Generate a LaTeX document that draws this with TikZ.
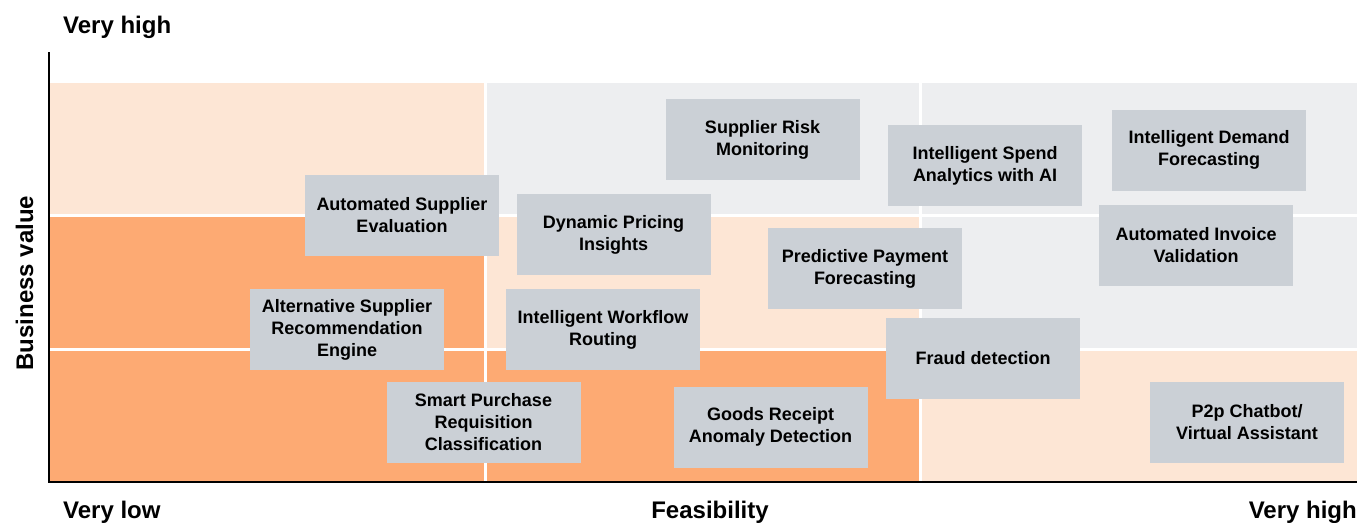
\documentclass[tikz,border=0pt]{standalone}
\usepackage{fontspec}
\setmainfont{Liberation Sans}
\definecolor{peach}{HTML}{FDE6D5}
\definecolor{hot}{HTML}{FDAA73}
\definecolor{mist}{HTML}{EDEEF0}
\definecolor{cardbg}{HTML}{CBD0D6}
\tikzset{
  axis/.style={draw=black, line width=2pt},
  gap/.style={draw=white, line width=3pt},
  card/.style={fill=cardbg, minimum width=194pt, minimum height=81pt, inner sep=0pt,
    align=center, font=\fontsize{18}{22}\selectfont\bfseries},
  axlab/.style={inner sep=0pt, font=\fontsize{24}{28}\selectfont\bfseries},
}

\begin{document}
\begin{tikzpicture}[x=1pt,y=-1pt]
  \useasboundingbox (0,0) rectangle (1372,522);
  \coordinate (top) at (49,52);
  \coordinate (O) at (49,482);
  \coordinate (right) at (1357,482);

  % cells of the matrix
  \foreach \xa/\xb/\ya/\yb/\c in {
    49/485/83/215/peach, 485/920/83/215/mist, 920/1357/83/215/mist,
    49/485/215/349/hot, 485/920/215/349/peach, 920/1357/215/349/mist,
    49/485/349/482/hot, 485/920/349/482/hot, 920/1357/349/482/peach}
    \fill[\c] (\xa,\ya) rectangle (\xb,\yb);
  \draw[gap] (485,83) -- (485,482);
  \draw[gap] (920,83) -- (920,482);
  \draw[gap] (49,215) -- (1357,215);
  \draw[gap] (49,349) -- (1357,349);

  \draw[axis] (top) -- (O) -- (right);

  \node[axlab, anchor=base west] (vhigh) at (63,33) {Very high};
  \node[axlab, anchor=base west] (vlow) at (63,518) {Very low};
  \node[axlab, anchor=base] (feas) at (710,518) {Feasibility};
  \node[axlab, anchor=base east] (xhigh) at (1357,518) {Very high};
  \node[axlab, anchor=base, rotate=90] (value) at (33,283) {Business value};

  % use cases
  \node[card] (riskmon) at (762.5,139.5) {Supplier Risk\\Monitoring};
  \node[card] (spend) at (985,165.5) {Intelligent Spend\\Analytics with AI};
  \node[card] (demand) at (1209,150) {Intelligent Demand\\Forecasting};
  \node[card] (supeval) at (402,215.5) {Automated Supplier\\Evaluation};
  \node[card] (pricing) at (613.5,234.5) {Dynamic Pricing\\Insights};
  \node[card] (payment) at (865,268.5) {Predictive Payment\\Forecasting};
  \node[card] (invoice) at (1196,245.5) {Automated Invoice\\Validation};
  \node[card] (altsup) at (347,329.5) {Alternative Supplier\\Recommendation\\Engine};
  \node[card] (workflow) at (603,329.5) {Intelligent Workflow\\Routing};
  \node[card] (fraud) at (983,358.5) {Fraud detection};
  \node[card] (requis) at (483.5,422.5) {Smart Purchase\\Requisition\\Classification};
  \node[card] (goods) at (770.5,427) {Goods Receipt\\Anomaly Detection};
  \node[card] (chatbot) at (1247,422.5) {P2p Chatbot/\\Virtual Assistant};
\end{tikzpicture}
\end{document}
